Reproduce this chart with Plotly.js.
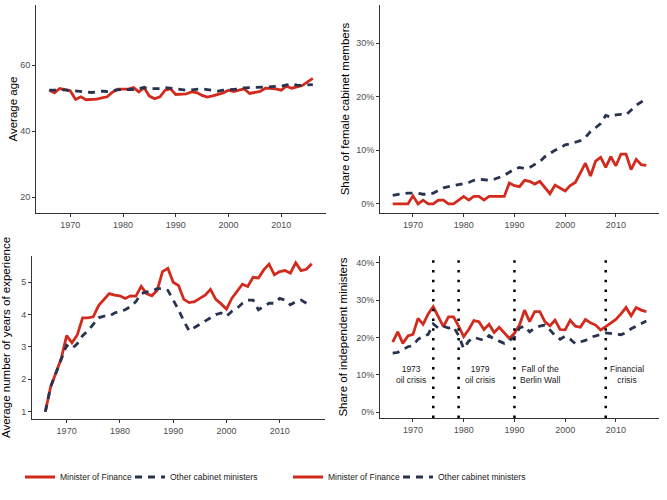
<!DOCTYPE html>
<html>
<head>
<meta charset="utf-8">
<script src="https://cdn.plot.ly/plotly-3.0.1.min.js"></script>
<style>html,body{margin:0;padding:0;background:#fff;}#chart{width:667px;height:500px;}</style>
</head>
<body>
<div id="chart"></div>
<script>
var years = [1966,1967,1968,1969,1970,1971,1972,1973,1974,1975,1976,1977,1978,1979,1980,1981,1982,1983,1984,1985,1986,1987,1988,1989,1990,1991,1992,1993,1994,1995,1996,1997,1998,1999,2000,2001,2002,2003,2004,2005,2006,2007,2008,2009,2010,2011,2012,2013,2014,2015,2016];

var seriesNames = ['Minister of Finance', 'Other cabinet ministers'];

var ageFinance = [52.4,51.6,52.9,52.6,52.2,49.6,50.4,49.5,49.5,49.7,50.1,50.4,51.8,52.7,52.7,52.7,53.2,51.9,53.2,50.6,49.8,50.4,52.4,52.8,51.1,51.2,51.3,51.9,51.7,50.8,50.3,50.7,51.1,51.6,52.4,52.0,52.4,52.8,51.4,51.7,52.0,53.0,53.0,52.8,52.4,53.6,53.0,53.4,53.8,54.9,56.0];
var ageOther = [52.4,52.4,52.6,52.5,52.3,52.2,52.0,51.9,51.7,51.9,52.1,52.0,52.3,52.5,52.6,52.6,52.6,52.9,53.2,52.9,52.8,52.9,53.2,53.0,52.6,52.5,52.4,52.5,52.6,52.8,52.6,52.4,52.1,52.4,52.5,52.6,52.8,53.1,53.2,53.3,53.3,53.5,53.4,53.5,53.6,54.0,54.3,53.9,53.8,54.0,54.1];

var femaleFinance = [0,0,0,0,1.5,0,0.7,0,0,0.7,0.7,0,0,0.7,1.4,0.7,1.4,1.4,0.7,1.4,1.4,1.4,1.4,3.9,3.4,3.2,4.4,4.2,3.7,4.2,3.0,1.9,3.5,2.9,2.4,3.4,4.0,5.8,7.6,5.2,8.0,8.7,6.8,8.8,7.1,9.3,9.3,6.4,8.3,7.3,7.2];
var femaleOther = [1.6,1.8,1.9,2.0,2.0,2.0,1.8,1.8,2.0,2.5,3.0,3.2,3.4,3.5,3.7,4.0,4.4,4.6,4.5,4.4,4.6,5.0,5.3,5.9,6.5,6.8,6.6,6.8,7.3,7.9,8.8,9.4,10.0,10.4,11.0,11.2,11.5,11.8,12.4,13.5,14.2,15.0,16.5,16.2,16.6,16.7,16.6,17.6,18.4,19.0,19.6];

var expFinance = [1.0,1.77,2.2,2.65,3.35,3.13,3.37,3.9,3.9,3.93,4.28,4.45,4.65,4.6,4.58,4.5,4.58,4.57,4.87,4.65,4.58,4.75,5.33,5.43,5.0,4.9,4.47,4.37,4.4,4.5,4.6,4.78,4.47,4.33,4.17,4.5,4.71,4.94,4.87,5.15,5.13,5.38,5.56,5.23,5.33,5.36,5.28,5.6,5.36,5.4,5.57];
var expOther = [1.0,1.77,2.2,2.6,3.05,2.95,3.1,3.35,3.5,3.7,3.9,3.95,3.95,4.05,4.1,4.15,4.25,4.4,4.65,4.7,4.72,4.8,4.8,4.75,4.45,4.15,3.8,3.5,3.6,3.7,3.8,3.9,4.0,4.05,3.95,4.1,4.2,4.35,4.45,4.45,4.15,4.25,4.35,4.35,4.5,4.45,4.3,4.4,4.45,4.35,4.3];

var indepFinance = [18.7,21.5,18.4,20.4,20.8,25.1,23.5,26.3,28.2,25.4,22.9,25.5,25.5,23.0,20.2,22.1,24.5,24.2,22.1,23.5,21.3,22.7,21.1,19.7,21.1,23.3,27.3,24.2,26.9,26.9,24.2,23.1,24.6,22.1,22.0,24.6,23.0,22.7,24.8,23.9,23.3,22.0,22.9,23.8,24.8,26.3,28.0,25.8,28.0,27.3,26.9];
var indepOther = [15.8,16.0,16.7,17.5,17.8,19.5,20.3,20.8,23.6,22.5,23.0,22.5,22.8,20.5,17.0,19.0,20.0,19.5,19.2,20.5,19.5,19.0,18.4,19.2,20.0,22.5,23.0,21.5,22.5,23.0,23.3,22.0,20.5,19.5,20.3,19.5,18.3,18.8,19.2,20.0,20.5,20.8,21.2,21.0,20.8,20.7,21.3,22.3,23.0,23.8,24.4];

var eventYears = [1974, 1979, 1990, 2008];
var eventLabels = ['1973<br>oil crisis', '1979<br>oil crisis', 'Fall of the<br>Berlin Wall', 'Financial<br>crisis'];
var eventLabelYears = [1969.6, 1983.2, 1995.1, 2012.1];
var eventLabelValue = 10;

var xTicks = [1970, 1980, 1990, 2000, 2010];
var ageTicks = [20, 40, 60];
var femaleTicks = [0, 10, 20, 30];
var femaleTickText = ['0%', '10%', '20%', '30%'];
var expTicks = [1, 2, 3, 4, 5];
var indepTicks = [0, 10, 20, 30, 40];
var indepTickText = ['0%', '10%', '20%', '30%', '40%'];

var RED = '#d22a1c';
var NAVY = '#283350';
var FONT = 'Liberation Sans, Arial, sans-serif';

// legend slots: bottom-left panel uses legend/legend2, bottom-right uses legend3/legend4
function pair(fin, oth, xa, ya, legA, legB, show) {
  return [
    {x: years, y: fin, xaxis: xa, yaxis: ya, type: 'scatter', mode: 'lines', name: seriesNames[0],
     line: {color: RED, width: 2.8}, legend: legA, showlegend: show, hoverinfo: 'x+y'},
    {x: years, y: oth, xaxis: xa, yaxis: ya, type: 'scatter', mode: 'lines', name: seriesNames[1],
     line: {color: NAVY, width: 2.8, dash: '7px,6px'}, legend: legB, showlegend: show, hoverinfo: 'x+y'}
  ];
}

var data = [].concat(
  pair(ageFinance, ageOther, 'x', 'y', 'legend', 'legend2', false),
  pair(femaleFinance, femaleOther, 'x2', 'y2', 'legend', 'legend2', false),
  pair(expFinance, expOther, 'x3', 'y3', 'legend', 'legend2', true),
  pair(indepFinance, indepOther, 'x4', 'y4', 'legend3', 'legend4', true)
);

function W(px) { return px / 667; }
function H(py) { return 1 - py / 500; }

function xax(d0, d1, anchor) {
  return {domain: [W(d0), W(d1)], anchor: anchor, range: [1963.5, 2018.5], tickmode: 'array', tickvals: xTicks,
    showline: true, linecolor: '#333', linewidth: 1, ticks: 'outside', ticklen: 3, tickcolor: '#333',
    tickfont: {family: FONT, size: 9, color: '#4d4d4d'}, showgrid: false, zeroline: false, fixedrange: true};
}
function yax(d0, d1, anchor, range, tv, tt, title, standoff) {
  var a = {domain: [H(d1), H(d0)], anchor: anchor, range: range, tickmode: 'array', tickvals: tv,
    showline: true, linecolor: '#333', linewidth: 1, ticks: 'outside', ticklen: 3, tickcolor: '#333',
    tickfont: {family: FONT, size: 9, color: '#4d4d4d'}, showgrid: false, zeroline: false, fixedrange: true,
    title: {text: title, font: {family: FONT, size: 11.5, color: '#000'}, standoff: standoff}};
  if (tt) { a.ticktext = tt; }
  return a;
}

var shapes = eventYears.map(function (yr) {
  return {type: 'line', xref: 'x4', yref: 'y4 domain', x0: yr, x1: yr, y0: 0, y1: 1,
    line: {color: '#000', width: 2.5, dash: '2.5px,7.2px'}};
});
var annotations = eventLabels.map(function (t, i) {
  return {xref: 'x4', yref: 'y4', x: eventLabelYears[i], y: eventLabelValue, text: t, showarrow: false,
    font: {family: FONT, size: 8.5, color: '#1a1a1a'}, align: 'center', xanchor: 'center', yanchor: 'middle'};
});

function leg(px) {
  return {orientation: 'h', yanchor: 'middle', xanchor: 'left', x: W(px), y: H(477), bgcolor: 'rgba(0,0,0,0)',
    font: {family: FONT, size: 8.5, color: '#1a1a1a'}, itemwidth: 30, tracegroupgap: 0};
}

var layout = {
  width: 667, height: 500, margin: {l: 0, r: 0, t: 0, b: 0}, paper_bgcolor: '#fff', plot_bgcolor: '#fff',
  font: {family: FONT},
  xaxis: xax(36, 326, 'y'),
  yaxis: yax(5, 213, 'x', [15.2, 78.2], ageTicks, null, 'Average age', 0),
  xaxis2: xax(380, 659, 'y2'),
  yaxis2: yax(5, 213, 'x2', [-1.7, 37.1], femaleTicks, femaleTickText, 'Share of female cabinet members', 4),
  xaxis3: xax(32, 325, 'y3'),
  yaxis3: yax(256, 419, 'x3', [0.775, 5.81], expTicks, null, 'Average number of years of experience', 15),
  xaxis4: xax(380, 659, 'y4'),
  yaxis4: yax(256, 418, 'x4', [-1.6, 41.8], indepTicks, indepTickText, 'Share of independent ministers', 6),
  legend: leg(20),
  legend2: leg(130),
  legend3: leg(288),
  legend4: leg(398),
  shapes: shapes,
  annotations: annotations,
  showlegend: true
};

Plotly.newPlot('chart', data, layout, {staticPlot: true, displayModeBar: false});
</script>
</body>
</html>
